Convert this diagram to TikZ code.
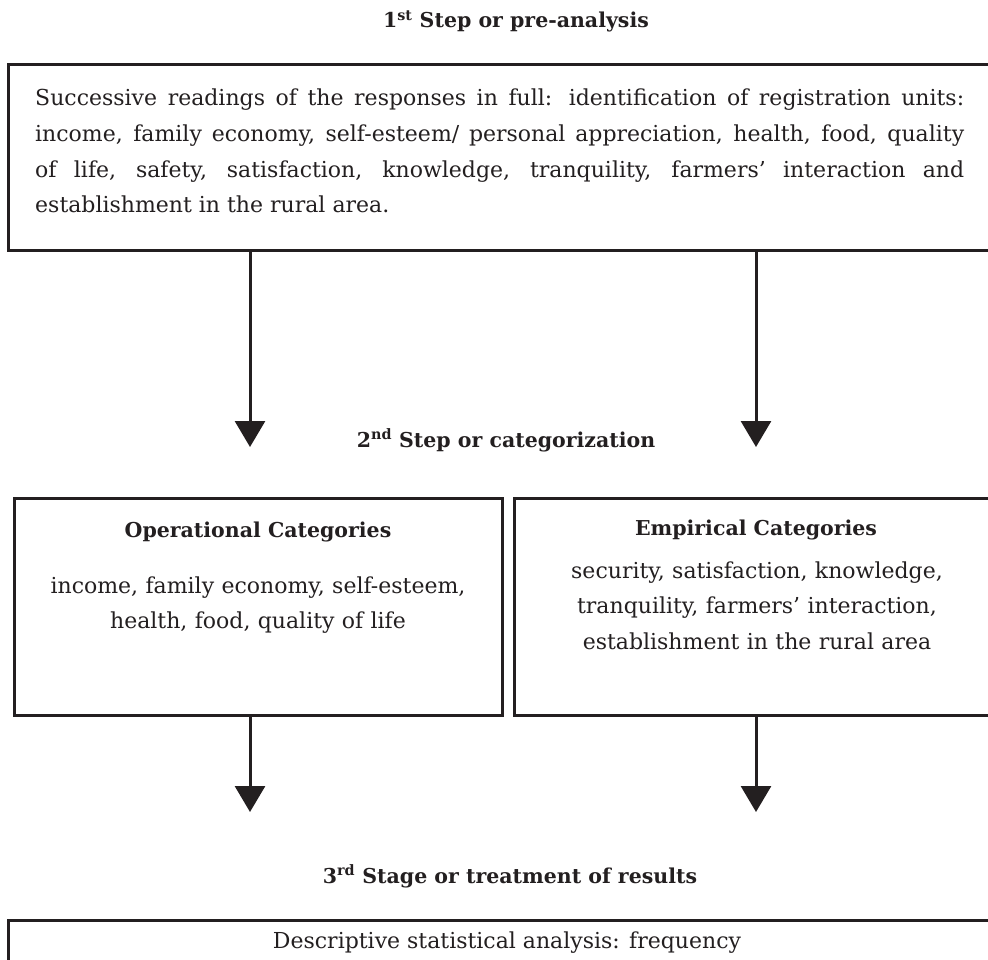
\documentclass[tikz,border=0pt]{standalone}
\usepackage{fontspec}
\setmainfont{DejaVu Serif}
\usetikzlibrary{arrows.meta}
\definecolor{ink}{HTML}{231F20}
\begin{document}
\begin{tikzpicture}[x=1pt,y=-1pt,
  box/.style={draw=ink,line width=3pt,minimum width=#1,inner sep=0,outer sep=0},
  head/.style={font=\fontsize{20.5}{24}\selectfont\bfseries,text=ink,inner sep=0,anchor=base},
  body/.style={font=\fontsize{22}{35.6}\selectfont,text=ink,inner sep=0,anchor=base},
  flow/.style={draw=ink,line width=3pt,-{Triangle[width=30pt,length=26pt]}}]
\useasboundingbox (0,0) rectangle (988,960);
\clip (0,0) rectangle (988,960);
% boxes
\node[box=992pt,minimum height=186pt] (b1) at (504,158) {};
\node[box=488pt,minimum height=217pt] (b2) at (258,606.5) {};
\node[box=486pt,minimum height=217pt] (b3) at (757,606.5) {};
\node[box=992pt,minimum height=80pt] (b4) at (504,960) {};
% headings
\node[head] (h1) at (516,28) {1\textsuperscript{st} Step or pre-analysis};
\node[head] (h2) at (506,447) {2\textsuperscript{nd} Step or categorization};
\node[head] (h3) at (510,883) {3\textsuperscript{rd} Stage or treatment of results};
\node[head] (o1) at (258,537) {Operational Categories};
\node[head] (e1) at (756,535) {Empirical Categories};
% texts
\node[body,anchor=base west,text width=929pt,align=justify] (t1) at (35,106)
 {Successive readings of the responses in full: identification of registration units:\linebreak
  income, family economy, self-esteem/ personal appreciation, health, food, quality\linebreak
  of life, safety, satisfaction, knowledge, tranquility, farmers’ interaction and\linebreak
  establishment in the rural area.};
\node[body,text width=480pt,align=center] (t2) at (258,593)
 {income, family economy, self-esteem,\\ health, food, quality of life};
\node[body,text width=480pt,align=center] (t3) at (757,578)
 {security, satisfaction, knowledge,\\ tranquility, farmers’ interaction,\\ establishment in the rural area};
\node[body] (t4) at (507,948) {Descriptive statistical analysis: frequency};
% arrows
\coordinate (p1) at (250,447);
\coordinate (p2) at (756,447);
\coordinate (p3) at (250,812);
\coordinate (p4) at (756,812);
\draw[flow] (b1.south -| p1) -- (p1);
\draw[flow] (b1.south -| p2) -- (p2);
\draw[flow] (b2.south -| p3) -- (p3);
\draw[flow] (b3.south -| p4) -- (p4);
\end{tikzpicture}
\end{document}
